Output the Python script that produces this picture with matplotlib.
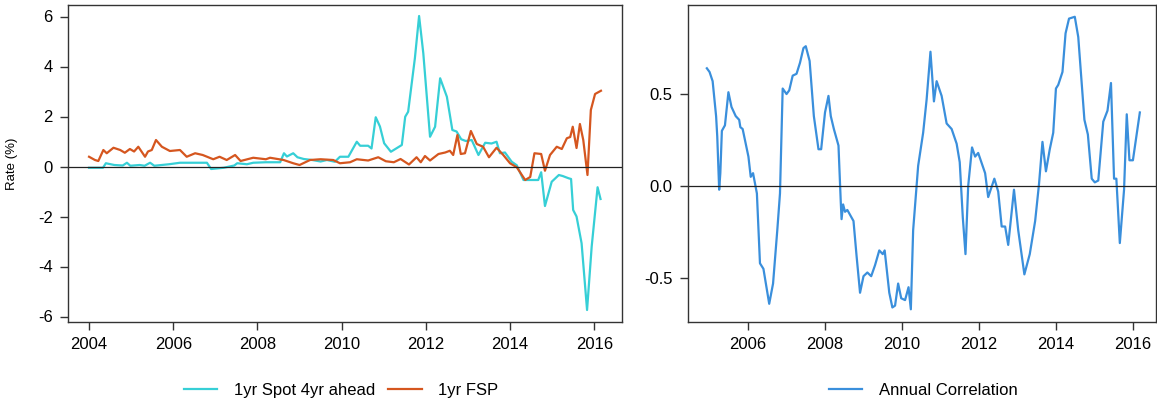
import matplotlib
matplotlib.use("Agg")
import matplotlib.pyplot as plt

plt.rcParams['font.family'] = ['Liberation Sans', 'DejaVu Sans']
plt.rcParams['axes.unicode_minus'] = False

# 1yr spot rate 4 years ahead (decimal year, %)
spot_t = [2004.00, 2004.33, 2004.40, 2004.60, 2004.80, 2004.90, 2004.98, 2005.20, 2005.32,
          2005.45, 2005.55, 2005.90, 2006.16, 2006.80, 2006.90, 2007.20, 2007.45, 2007.52,
          2007.75, 2007.90, 2008.20, 2008.54, 2008.63, 2008.70, 2008.85, 2008.95, 2009.10,
          2009.30, 2009.50, 2009.65, 2009.84, 2009.96, 2010.16, 2010.36, 2010.44, 2010.63,
          2010.71, 2010.81, 2010.91, 2011.01, 2011.17, 2011.43, 2011.51, 2011.58, 2011.74,
          2011.84, 2011.94, 2012.10, 2012.22, 2012.34, 2012.50, 2012.63, 2012.73, 2012.84,
          2012.95, 2013.09, 2013.25, 2013.41, 2013.56, 2013.68, 2013.76, 2013.88, 2014.04,
          2014.16, 2014.32, 2014.52, 2014.67, 2014.74, 2014.83, 2014.99, 2015.16, 2015.25,
          2015.39, 2015.45, 2015.50, 2015.58, 2015.70, 2015.83, 2015.94, 2016.08, 2016.15]
spot = [-0.05, -0.05, 0.13, 0.06, 0.04, 0.15, 0.03, 0.06, 0.03,
        0.15, 0.03, 0.09, 0.15, 0.15, -0.10, -0.05, 0.04, 0.13,
        0.09, 0.15, 0.17, 0.17, 0.53, 0.40, 0.53, 0.37, 0.30,
        0.26, 0.20, 0.26, 0.19, 0.39, 0.39, 0.99, 0.83, 0.83,
        0.72, 1.97, 1.60, 0.93, 0.59, 0.86, 1.99, 2.19, 4.33,
        6.02, 4.53, 1.19, 1.59, 3.53, 2.79, 1.46, 1.40, 1.09,
        1.02, 1.06, 0.46, 0.95, 0.92, 0.99, 0.53, 0.56, 0.19,
        0.05, -0.54, -0.54, -0.54, -0.23, -1.58, -0.61, -0.34, -0.38,
        -0.47, -0.50, -1.74, -2.00, -3.07, -5.74, -3.20, -0.83, -1.30]

# 1yr FSP
fsp_t = [2004.00, 2004.14, 2004.22, 2004.34, 2004.42, 2004.58, 2004.74, 2004.85, 2004.97,
         2005.07, 2005.17, 2005.33, 2005.40, 2005.49, 2005.59, 2005.73, 2005.92, 2006.16,
         2006.32, 2006.52, 2006.70, 2006.95, 2007.10, 2007.27, 2007.47, 2007.60, 2007.90,
         2008.20, 2008.30, 2008.62, 2008.85, 2009.00, 2009.25, 2009.50, 2009.80, 2009.96,
         2010.20, 2010.36, 2010.63, 2010.87, 2011.05, 2011.24, 2011.40, 2011.60, 2011.78,
         2011.88, 2011.98, 2012.10, 2012.30, 2012.46, 2012.57, 2012.65, 2012.75, 2012.83,
         2012.93, 2013.07, 2013.21, 2013.36, 2013.50, 2013.68, 2013.84, 2014.00, 2014.16,
         2014.36, 2014.48, 2014.58, 2014.74, 2014.83, 2014.95, 2015.11, 2015.23, 2015.35,
         2015.43, 2015.49, 2015.58, 2015.66, 2015.74, 2015.84, 2015.92, 2016.02, 2016.16]
fsp = [0.39, 0.26, 0.22, 0.66, 0.53, 0.75, 0.66, 0.55, 0.70,
       0.60, 0.79, 0.39, 0.60, 0.66, 1.06, 0.79, 0.62, 0.66,
       0.39, 0.53, 0.46, 0.29, 0.39, 0.26, 0.46, 0.22, 0.35,
       0.29, 0.35, 0.26, 0.13, 0.06, 0.26, 0.29, 0.26, 0.13,
       0.17, 0.29, 0.24, 0.37, 0.21, 0.17, 0.30, 0.08, 0.37,
       0.17, 0.42, 0.24, 0.50, 0.56, 0.63, 0.46, 1.26, 0.50,
       0.53, 1.42, 0.90, 0.79, 0.37, 0.75, 0.46, 0.13, -0.03,
       -0.54, -0.42, 0.53, 0.50, -0.17, 0.46, 0.79, 0.70, 1.13,
       1.18, 1.59, 0.74, 1.70, 1.06, -0.34, 2.26, 2.90, 3.03]

# annual correlation
corr_t = [2004.93, 2005.00, 2005.08, 2005.17, 2005.20, 2005.25, 2005.28, 2005.32, 2005.40,
          2005.49, 2005.57, 2005.68, 2005.77, 2005.80, 2005.86, 2006.01, 2006.07, 2006.13,
          2006.23, 2006.31, 2006.40, 2006.55, 2006.65, 2006.76, 2006.83, 2006.90, 2007.00,
          2007.07, 2007.16, 2007.26, 2007.35, 2007.44, 2007.50, 2007.60, 2007.71, 2007.83,
          2007.90, 2008.00, 2008.09, 2008.15, 2008.23, 2008.35, 2008.41, 2008.43, 2008.47,
          2008.52, 2008.58, 2008.74, 2008.82, 2008.91, 2009.00, 2009.10, 2009.20, 2009.30,
          2009.41, 2009.50, 2009.55, 2009.67, 2009.75, 2009.82, 2009.90, 2009.98, 2010.08,
          2010.17, 2010.23, 2010.29, 2010.42, 2010.55, 2010.64, 2010.74, 2010.83, 2010.90,
          2011.03, 2011.16, 2011.29, 2011.42, 2011.50, 2011.58, 2011.65, 2011.72, 2011.82,
          2011.90, 2011.98, 2012.16, 2012.24, 2012.40, 2012.50, 2012.59, 2012.68, 2012.76,
          2012.91, 2013.02, 2013.18, 2013.32, 2013.46, 2013.56, 2013.65, 2013.74, 2013.84,
          2013.93, 2014.00, 2014.06, 2014.17, 2014.25, 2014.34, 2014.49, 2014.58, 2014.74,
          2014.83, 2014.93, 2015.01, 2015.10, 2015.23, 2015.34, 2015.43, 2015.47, 2015.51,
          2015.57, 2015.66, 2015.77, 2015.84, 2015.91, 2016.00, 2016.18]
corr = [0.64, 0.62, 0.57, 0.38, 0.27, -0.02, 0.07, 0.30, 0.33,
        0.51, 0.43, 0.38, 0.36, 0.32, 0.31, 0.16, 0.05, 0.07,
        -0.04, -0.42, -0.45, -0.64, -0.53, -0.24, -0.04, 0.53, 0.50,
        0.52, 0.60, 0.61, 0.67, 0.75, 0.76, 0.68, 0.38, 0.20,
        0.20, 0.40, 0.49, 0.38, 0.31, 0.22, -0.09, -0.18, -0.10,
        -0.14, -0.13, -0.19, -0.38, -0.58, -0.49, -0.47, -0.49, -0.43,
        -0.35, -0.37, -0.35, -0.58, -0.66, -0.65, -0.53, -0.61, -0.62,
        -0.55, -0.67, -0.24, 0.11, 0.29, 0.47, 0.73, 0.46, 0.57,
        0.49, 0.34, 0.31, 0.23, 0.13, -0.17, -0.37, 0.00, 0.21,
        0.16, 0.18, 0.07, -0.06, 0.04, -0.03, -0.22, -0.22, -0.32,
        -0.02, -0.24, -0.48, -0.37, -0.19, 0.01, 0.24, 0.08, 0.20,
        0.29, 0.53, 0.55, 0.62, 0.83, 0.91, 0.92, 0.81, 0.36,
        0.28, 0.04, 0.02, 0.03, 0.35, 0.41, 0.56, 0.30, 0.04,
        0.04, -0.31, -0.02, 0.39, 0.14, 0.14, 0.40]

cyan = '#36CFD6'
orange = '#D5561F'
blue = '#3A8FDC'

fig = plt.figure(figsize=(11.57, 4.01), dpi=100)
ax1 = fig.add_axes([68 / 1157, 79 / 401, 554 / 1157, 317 / 401])
ax2 = fig.add_axes([688 / 1157, 79 / 401, 468 / 1157, 317 / 401])

ax1.plot(spot_t, spot, color=cyan, lw=1.6, label='1yr Spot 4yr ahead')
ax1.plot(fsp_t, fsp, color=orange, lw=1.6, label='1yr FSP')
ax1.axhline(0, color='#222222', lw=0.9)
ax1.set_xlim(2003.50, 2016.66)
ax1.set_ylim(-6.22, 6.46)
ax1.set_xticks(range(2004, 2017, 2))
ax1.set_yticks(range(-6, 7, 2))
ax1.set_ylabel('Rate (%)', fontsize=9.5, labelpad=14)

ax2.plot(corr_t, corr, color=blue, lw=1.6, label='Annual Correlation')
ax2.axhline(0, color='#222222', lw=0.9)
ax2.set_xlim(2004.44, 2016.60)
ax2.set_ylim(-0.739, 0.984)
ax2.set_xticks(range(2006, 2017, 2))
ax2.set_yticks([-0.5, 0.0, 0.5])
ax2.set_yticklabels(['-0.5', '0.0', '0.5'])

for ax in (ax1, ax2):
    ax.tick_params(labelsize=12, length=6, width=1, color='#333333', pad=5)
    for s in ax.spines.values():
        s.set_color('#333333')
        s.set_linewidth(1)

fig.legend(handles=ax1.get_lines()[:2], loc='center', bbox_to_anchor=(341 / 1157, 0.027),
           ncol=2, frameon=False, fontsize=12, handlelength=2, handletextpad=1.0,
           columnspacing=0.8)
fig.legend(handles=ax2.get_lines()[:1], loc='center', bbox_to_anchor=(923 / 1157, 0.027),
           frameon=False, fontsize=12, handlelength=2, handletextpad=1.0)

fig.savefig('out.png', dpi=100)
